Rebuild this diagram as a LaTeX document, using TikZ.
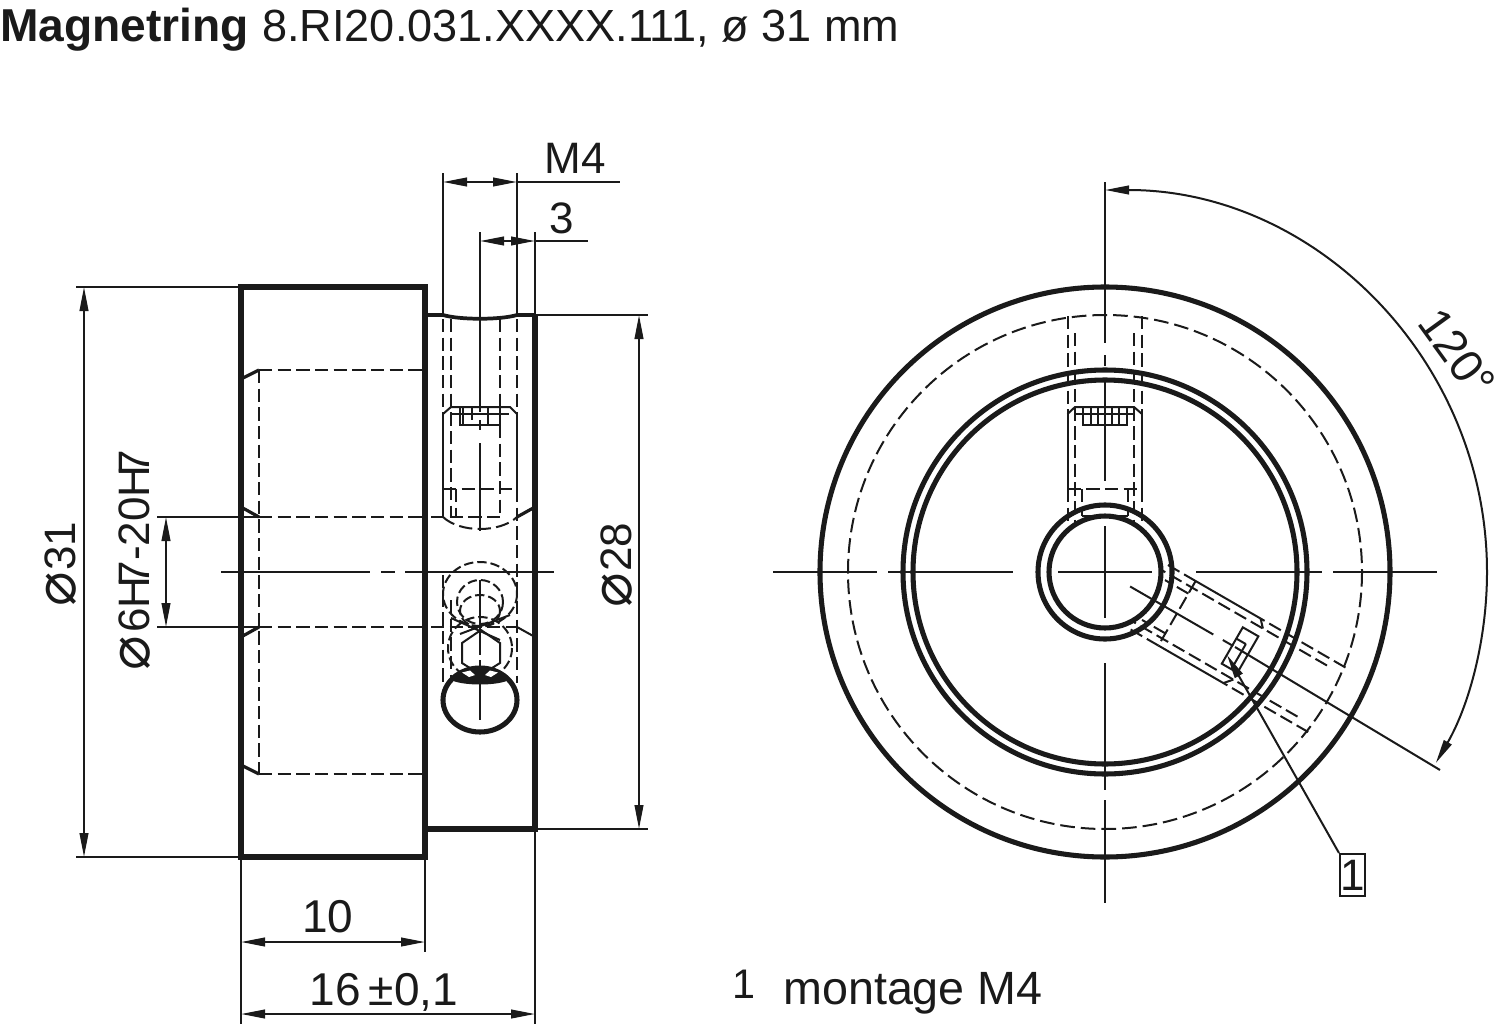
\documentclass[tikz,border=0pt]{standalone}
\usepackage{fontspec}
\setmainfont{Liberation Sans}
\newfontfamily\symf{DejaVu Sans}
\usetikzlibrary{arrows.meta}
\definecolor{ink}{HTML}{1A1A1A}
\newcommand{\DIA}{{\symf\fontsize{43}{43}\selectfont\char"2300}}
\newcommand{\HS}{H\kern-.2em 7}
\tikzset{
  thk/.style={draw=ink,line width=3.8pt},
  thn/.style={draw=ink,line width=1.5pt},
  med/.style={draw=ink,line width=2.4pt},
  dsh/.style={draw=ink,line width=1.5pt,dash pattern=on 10pt off 4pt},
  dshs/.style={draw=ink,line width=1.5pt,dash pattern=on 7pt off 3pt},
  dimline/.style={thn,{Stealth[length=18pt,width=6.5pt,inset=0pt]}-{Stealth[length=18pt,width=6.5pt,inset=0pt]}},
  txt/.style={text=ink,inner sep=0pt,anchor=base,font=\fontsize{33}{33}\selectfont},
  txtb/.style={text=ink,inner sep=0pt,anchor=base,font=\fontsize{34.5}{34.5}\selectfont},
}
% radial tapped hole common to both views of the ring (drawn pointing up from centre)
\newcommand{\holecommon}{%
  \draw[dsh] (1067.5,316) -- (1067.5,414);
  \draw[dsh] (1142,316) -- (1142,414);
  \draw[dsh] (1067.5,489) -- (1067.5,523);
  \draw[dsh] (1142,489) -- (1142,523);
  \draw[dsh] (1075,333) -- (1075,525);
  \draw[dsh] (1134,333) -- (1134,525);
  \draw[thn] (1067.5,414) -- (1067.5,489);
  \draw[thn] (1142,414) -- (1142,489);
  \draw[dsh] (1067.5,489) -- (1142,489);
  \draw[dsh] (1082,489) -- (1082,516);
  \draw[dsh] (1128,489) -- (1128,516);
}
\begin{document}
\begin{tikzpicture}[x=0.75pt,y=-0.75pt]
\useasboundingbox[fill=white] (0,0) rectangle (1500,1024);
% title
\node[txt,anchor=base west,font=\fontsize{34.6}{34.6}\selectfont\bfseries] (title) at (0,42) {Magnetring};
\node[txt,anchor=base west,font=\fontsize{33.8}{33.8}\selectfont] (subtitle) at (262,42) {8.RI20.031.XXXX.111, ø 31 mm};

%% ---------- LEFT VIEW ----------
% hidden lines of bore
\draw[dsh] (259,370) -- (425,370);
\draw[dsh] (259,517) -- (425,517);
\draw[dsh] (259,627) -- (425,627);
\draw[dsh] (259,774) -- (425,774);
\draw[dsh] (259,370) -- (259,774);
\draw[med] (241,379) -- (259,370);
\draw[med] (241,507) -- (259,517);
\draw[med] (241,637) -- (259,627);
\draw[med] (241,765) -- (259,774);
% body
\draw[thk] (241,287) rectangle (425,857);
\draw[thk] (425,829) -- (535,829) -- (535,315);
\draw[line width=2.8pt,draw=ink] (425,315) -- (443,315) .. controls (460,320) and (500,320) .. (517,315) -- (535,315);
% extension + dims
\draw[thn] (76,287) -- (241,287);
\draw[thn] (76,857) -- (241,857);
\draw[dimline] (84,287) -- (84,857);
\draw[thn] (535,315) -- (648,315);
\draw[thn] (535,829) -- (648,829);
\draw[dimline] (639,315) -- (639,829);
\draw[thn] (157,517) -- (259,517);
\draw[thn] (157,627) -- (259,627);
\draw[dimline] (166,517) -- (166,627);
% centre line
\draw[thn] (221,572) -- (370,572) (381,572) -- (395,572) (405,572) -- (554,572);
% top dims
\draw[thn] (443,173) -- (443,315);
\draw[thn] (517,173) -- (517,315);
\draw[thn] (480,232) -- (480,319);
\draw[thn] (535,232) -- (535,315);
\draw[dimline] (443,182) -- (517,182);
\draw[thn] (517,182) -- (620,182);
\draw[dimline] (480,241) -- (535,241);
\draw[thn] (535,241) -- (588,241);
% bottom dims
\draw[thn] (241,857) -- (241,1024);
\draw[thn] (425,857) -- (425,952);
\draw[thn] (535,829) -- (535,1024);
\draw[dimline] (241,942) -- (425,942);
\draw[dimline] (241,1014) -- (535,1014);
% hole in side view
\draw[dsh] (443,319) -- (443,414);
\draw[dsh] (451,319) -- (451,517);
\draw[dsh] (500,319) -- (500,407);
\draw[dsh] (517,319) -- (517,414);
\draw[thn] (480,319) -- (480,412) (480,420) -- (480,430) (480,443) -- (480,531);
\draw[thn] (443,414) -- (451,407) -- (510,407) -- (517,414);
\draw[thn] (443,414) -- (443,517);
\draw[thn] (517,414) -- (517,489);
\draw[thn] (460,407) -- (460,425) -- (500,425) -- (500,407);
\draw[thn] (463,407) -- (463,425) (472,407) -- (472,420) (488,407) -- (488,425);
\draw[thn] (451,414) -- (509,414);
\draw[dsh] (443,489) -- (517,489);
\draw[dsh] (456,489) -- (456,517);
\draw[dsh] (500,425) -- (500,517);
\draw[dsh] (431,517) -- (502,517);
\draw[dsh] (517,489) -- (517,683);
\draw[dsh] (443,517) .. controls (460,533) and (500,533) .. (517,517);
\draw[med] (517,517) -- (535,507);
\draw[dsh] (443,575) -- (443,683);
\draw[dsh] (451,600) -- (451,683);
\draw[dsh] (431,627) -- (517,627);
\draw[thn] (517,627) -- (535,637);
% cross-hole circles
\draw[dshs] (480,594) ellipse [x radius=37,y radius=32];
\draw[dshs] (480,602) ellipse [x radius=23,y radius=22];
\draw[dshs] (480,611) ellipse [x radius=20,y radius=16];
\draw[dshs] (480,648) ellipse [x radius=32,y radius=31];
\draw[thn] (462,643) -- (481,630) -- (500,643) -- (500,663) -- (481,675) -- (462,663) -- cycle;
\draw[thn] (451,618) -- (500,640) (460,634) -- (510,615);
\draw[thn] (480,580) -- (480,655);
\draw[thn] (480,660) -- (480,720);
\draw[thk] (480,700) ellipse [x radius=37,y radius=32];
\fill[ink] (451,680) .. controls (465,664) and (495,664) .. (509,680) .. controls (497,686) and (463,686) .. (451,680) -- cycle;
\fill[white] (462,672.5) -- (470,670.5) -- (475,675) -- (469,677) -- cycle;
\fill[white] (498,672.5) -- (490,670.5) -- (485,675) -- (491,677) -- cycle;
% left labels
\node[txt,rotate=90] (d31) at (75,564) {\DIA\kern1pt 31};
\node[txt,rotate=90] (d6) at (149,560) {\DIA\kern2pt 6\HS-20\HS};
\node[txt,rotate=90] (d28) at (631,565) {\DIA\kern1pt 28};
\node[txt] (m4) at (575,173) {M4};
\node[txt] (three) at (562,233) {3};
\node[txtb] (ten) at (328,932) {10};
\node[txtb] (sixteen) at (384,1005) {16\,±0,1};

%% ---------- RIGHT VIEW ----------
\draw[thk] (1105,572) circle [radius=285];
\draw[dsh,dash pattern=on 11pt off 4.5pt] (1105,572) circle [radius=257];
\draw[thk] (1105,572) circle [radius=202];
\draw[thk] (1105,572) circle [radius=192];
\draw[thk] (1105,572) circle [radius=67];
\draw[thk] (1105,572) circle [radius=56];
% centre lines
\draw[thn] (773,572) -- (877,572) (888,572) -- (1013,572) (1058,572) -- (1152,572) (1196,572) -- (1322,572) (1333,572) -- (1437,572);
\draw[thn] (1105,182) -- (1105,343) (1105,355) -- (1105,366) (1105,378) -- (1105,481) (1105,526) -- (1105,618) (1105,663) -- (1105,790) (1105,800) -- (1105,903);
% upper radial hole
\holecommon
\draw[thn] (1067.5,414) -- (1075,407) -- (1134,407) -- (1142,414);
\draw[thn] (1083,407) -- (1083,425) -- (1127,425) -- (1127,407);
\draw[thn] (1091,407) -- (1091,425) (1098,407) -- (1098,425) (1112,407) -- (1112,425) (1119,407) -- (1119,425);
\draw[thn] (1075,414) -- (1134,414);
\draw[thn] (1082,516) -- (1128,516);
% lower radial hole, turned by 120 degrees
\begin{scope}[rotate around={-120:(1105,572)}]
  \holecommon
  \draw[thn] (1067.5,414) -- (1075,407) (1134,407) -- (1142,414);
  \draw[thn] (1084,407) -- (1084,425) -- (1126,425) -- (1126,407) -- cycle;
  \draw[thn] (1097,414) -- (1126,414) (1097,414) -- (1097,425);
  \draw[thn] (1105,543) -- (1105,447) (1105,436) -- (1105,424);
\end{scope}
% 120 degree dimension
\coordinate (aend) at (1235,647);
\draw[thn] (aend) -- (1440,770);
\draw[dimline] (1105,190) arc [start angle=-90,end angle=30,radius=382];
\node[txtb,rotate=-54,anchor=center] (ang) at (1457,353) {120°};
% reference marker
\node[thn,draw,rectangle,minimum width=18.8pt,minimum height=31.5pt,inner sep=0pt,text=ink,font=\fontsize{33}{33}\selectfont] (ref) at (1352.5,875) {1};
\coordinate (reftip) at (1227,655);
\draw[thn,{Stealth[length=18pt,width=6.5pt,inset=0pt]}-] (reftip) -- (ref.north west);
% note
\node[txt,font=\fontsize{31}{31}\selectfont] (noten) at (744,998) {1};
\node[txt,anchor=base west,font=\fontsize{35}{35}\selectfont] (note) at (783,1004) {montage M4};
\end{tikzpicture}
\end{document}
